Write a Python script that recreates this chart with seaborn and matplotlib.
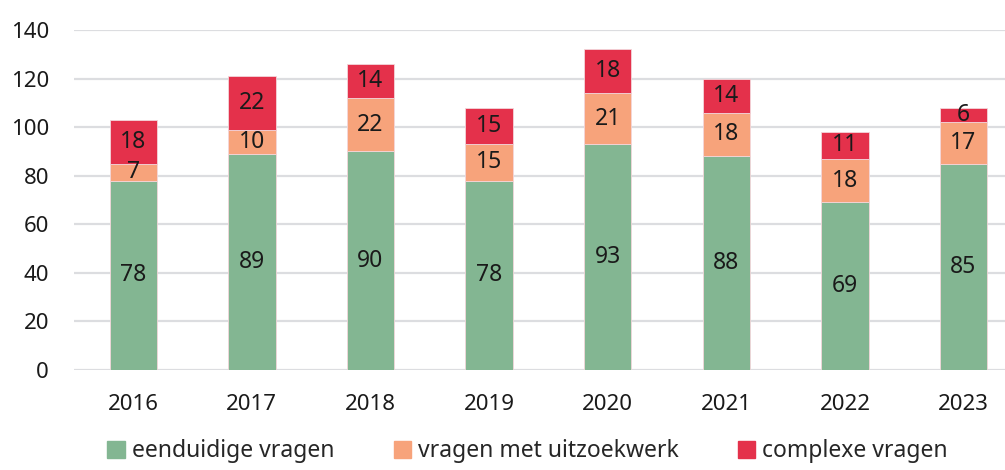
import pandas as pd
import seaborn as sns
import matplotlib.pyplot as plt
from matplotlib.patches import Patch

years = ['2016', '2017', '2018', '2019', '2020', '2021', '2022', '2023']
eenduidig = [78, 89, 90, 78, 93, 88, 69, 85]
uitzoekwerk = [7, 10, 22, 15, 21, 18, 18, 17]
complex_ = [18, 22, 14, 15, 18, 14, 11, 6]
series_names = ['eenduidige vragen', 'vragen met uitzoekwerk', 'complexe vragen']
colors = ['#83b692', '#f7a37b', '#e4314b']

sns.set_style('white')
plt.rcParams['font.family'] = ['Noto Sans', 'DejaVu Sans']

df = pd.DataFrame({'jaar': years, 'a': eenduidig, 'b': uitzoekwerk, 'c': complex_})
df['bottom_c'] = df['a'] + df['b']

fig = plt.figure(figsize=(10.05, 4.7), dpi=100)
ax = fig.add_axes([0.0736, 0.2128, 0.9264, 0.7234])

layers = [('a', None), ('b', 'a'), ('c', 'bottom_c')]
for (col, bot), c in zip(layers, colors):
    kw = {}
    if bot is not None:
        kw['bottom'] = df[bot]
    sns.barplot(data=df, x='jaar', y=col, color=c, width=0.4, ax=ax,
                saturation=1, zorder=3, edgecolor='#f3d6da', linewidth=0.6, **kw)

for cont in ax.containers:
    ax.bar_label(cont, label_type='center', fontsize=16.5, color='#1a1a1a')

ax.set_ylim(0, 140)
ax.set_xlim(-0.5, 7.35)
ax.set_yticks(range(0, 141, 20))
ax.yaxis.grid(True, color='#dcdde0', linewidth=1.6, zorder=0)
ax.set_axisbelow(True)
for s in ax.spines.values():
    s.set_visible(False)
ax.set_xlabel('')
ax.set_ylabel('')
ax.tick_params(axis='both', length=0, labelsize=16, colors='#1a1a1a')
ax.tick_params(axis='x', pad=17)
ax.tick_params(axis='y', pad=18)

handles = [Patch(color=c, label=n) for c, n in zip(colors, series_names)]
fig.legend(handles=handles, loc='lower center', ncol=3, frameon=False,
           bbox_to_anchor=(0.525, -0.03), fontsize=16.5, handlelength=0.75,
           handleheight=0.8, handletextpad=0.3, columnspacing=2.6)

fig.savefig('out.png', dpi=100)
